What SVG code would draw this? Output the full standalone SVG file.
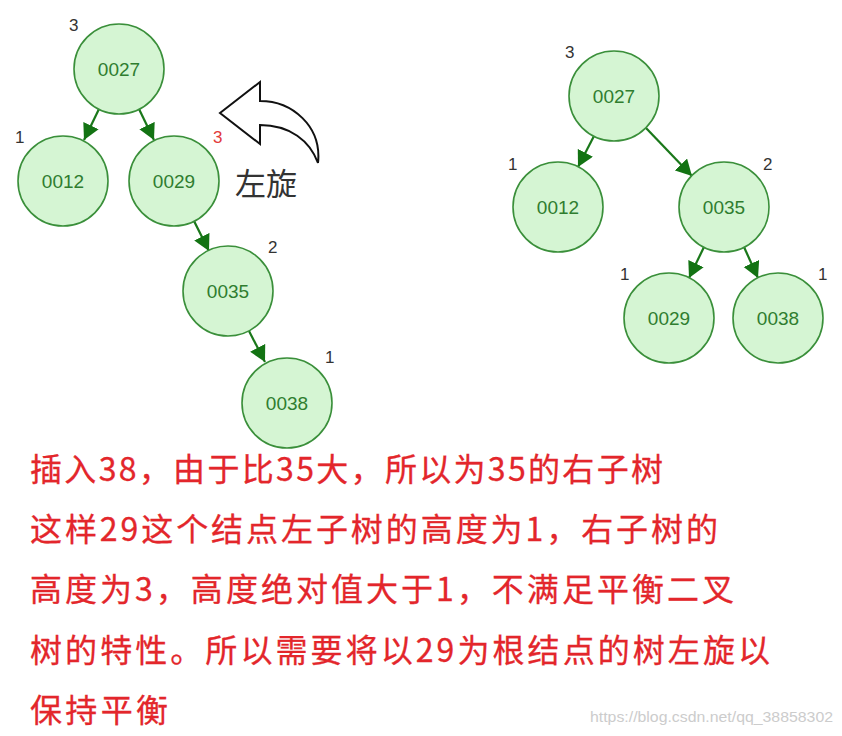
<svg xmlns="http://www.w3.org/2000/svg" width="842" height="736" viewBox="0 0 842 736">
<defs>
<style>
.node circle{fill:#d5f5d3;stroke:#3a8f3a;stroke-width:1.6}
.node text{font-family:"Liberation Sans",Arial,sans-serif;font-size:19px;fill:#2f7d2f;text-anchor:middle}
.h{font-family:"Liberation Sans",Arial,sans-serif;font-size:17px;fill:#333333}
.hr{fill:#e23a3a}
.edge{stroke:#1a781a;stroke-width:2.2;fill:none;marker-end:url(#ah)}
.cn{font-family:"Noto Sans CJK SC","Noto Sans",sans-serif;font-size:32px;fill:#e3262b;stroke:#e3262b;stroke-width:0.3}
</style>
<marker id="ah" markerUnits="userSpaceOnUse" markerWidth="18" markerHeight="18" refX="16" refY="8.5" orient="auto">
<path d="M0,0 L16,8.5 L0,17 Z" fill="#137313"/>
</marker>
</defs>
<rect width="842" height="736" fill="#ffffff"/>

<g id="connectors">
<line class="edge" x1="99" y1="109" x2="84" y2="140"/>
<line class="edge" x1="139" y1="109" x2="154" y2="140"/>
<line class="edge" x1="194" y1="221" x2="209" y2="251"/>
<line class="edge" x1="249" y1="331" x2="265" y2="362"/>
<line class="edge" x1="594" y1="136" x2="578" y2="167"/>
<line class="edge" x1="646" y1="128" x2="692" y2="176"/>
<line class="edge" x1="704" y1="247" x2="689" y2="278"/>
<line class="edge" x1="744" y1="247" x2="758" y2="278"/>
</g>

<g id="L0027" class="node"><circle cx="119" cy="69" r="45"/><text x="119" y="76">0027</text></g>
<g id="L0012" class="node"><circle cx="63" cy="181" r="45"/><text x="63" y="188">0012</text></g>
<g id="L0029" class="node"><circle cx="174" cy="181" r="45"/><text x="174" y="188">0029</text></g>
<g id="L0035" class="node"><circle cx="228" cy="291" r="45"/><text x="228" y="298">0035</text></g>
<g id="L0038" class="node"><circle cx="287" cy="403" r="45"/><text x="287" y="410">0038</text></g>

<g id="R0027" class="node"><circle cx="614" cy="96" r="45"/><text x="614" y="103">0027</text></g>
<g id="R0012" class="node"><circle cx="558" cy="207" r="45"/><text x="558" y="214">0012</text></g>
<g id="R0035" class="node"><circle cx="724" cy="207" r="45"/><text x="724" y="214">0035</text></g>
<g id="R0029" class="node"><circle cx="669" cy="318" r="45"/><text x="669" y="325">0029</text></g>
<g id="R0038" class="node"><circle cx="778" cy="318" r="45"/><text x="778" y="325">0038</text></g>

<g id="heights">
<text class="h" x="69" y="31">3</text>
<text class="h" x="15" y="143">1</text>
<text class="h hr" x="213" y="143">3</text>
<text class="h" x="268" y="253">2</text>
<text class="h" x="325" y="363">1</text>
<text class="h" x="565" y="58">3</text>
<text class="h" x="508" y="170">1</text>
<text class="h" x="763" y="170">2</text>
<text class="h" x="620" y="280">1</text>
<text class="h" x="818" y="280">1</text>
</g>

<g id="rotate">
<path d="M220,113 L260,82 L260,101 C292,101 322,126 318,163 C310,141 290,125 260,125 L260,144 Z" fill="#ffffff" stroke="#111111" stroke-width="2" stroke-linejoin="miter"/>
<text x="235" y="195" font-family="Noto Sans CJK SC,sans-serif" font-size="31" fill="#333333">左旋</text>
</g>

<g id="description">
<text class="cn" x="30" y="481" textLength="633" lengthAdjust="spacing">插入38，由于比35大，所以为35的右子树</text>
<text class="cn" x="30" y="541" textLength="688" lengthAdjust="spacing">这样29这个结点左子树的高度为1，右子树的</text>
<text class="cn" x="30" y="601" textLength="704" lengthAdjust="spacing">高度为3，高度绝对值大于1，不满足平衡二叉</text>
<text class="cn" x="30" y="662" textLength="740" lengthAdjust="spacing">树的特性。所以需要将以29为根结点的树左旋以</text>
<text class="cn" x="30" y="722" textLength="138" lengthAdjust="spacing">保持平衡</text>
</g>

<text x="590" y="722" font-family="Liberation Sans,Arial,sans-serif" font-size="15" fill="#cccccc" textLength="243" lengthAdjust="spacingAndGlyphs">https://blog.csdn.net/qq_38858302</text>
</svg>
